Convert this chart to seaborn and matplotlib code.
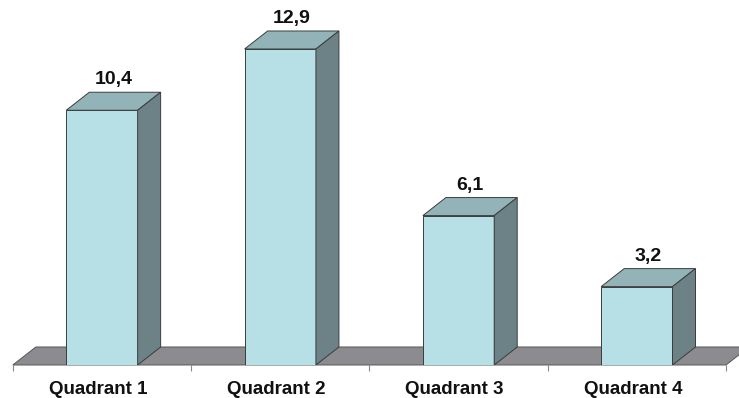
import matplotlib
matplotlib.use("Agg")
import matplotlib.pyplot as plt
from matplotlib.transforms import ScaledTranslation
import seaborn as sns
import pandas as pd

categories = ["Quadrant 1", "Quadrant 2", "Quadrant 3", "Quadrant 4"]
values = [10.4, 12.9, 6.1, 3.2]
value_labels = ["10,4", "12,9", "6,1", "3,2"]

sns.set_theme(style="white")
plt.rcParams["font.family"] = ["Liberation Sans", "DejaVu Sans"]

FRONT = "#B6E0E6"
TOP = "#92B4B8"
SIDE = "#6C8286"
FLOOR = "#8C8C90"
EDGE = "#3C3C3C"

fig = plt.figure(figsize=(7.39, 3.98), dpi=100)
ax = fig.add_axes([0, 33 / 398, 1, 365 / 398])

df = pd.DataFrame({"cat": categories, "val": values})
sns.barplot(data=df, x="cat", y="val", color=FRONT, width=0.4,
            edgecolor=EDGE, linewidth=0.7, saturation=1, ax=ax, zorder=3)

ax.set_xlim(-0.572, 3.573)
ax.set_ylim(0, 14.9)

dx = 0.129
dy = 0.735

# floor
n = len(categories)
fx = [-0.5, n - 0.5, n - 0.5 + dx, -0.5 + dx]
fy = [0, 0, dy, dy]
ax.fill(fx, fy, facecolor=FLOOR, edgecolor="#555555", linewidth=0.7,
        zorder=1, clip_on=False)

# 3D faces derived from the bar patches
for p, lab in zip(ax.patches, value_labels):
    x0 = p.get_x()
    w = p.get_width()
    h = p.get_height()
    x1 = x0 + w
    ax.fill([x0, x1, x1 + dx, x0 + dx], [h, h, h + dy, h + dy],
            facecolor=TOP, edgecolor=EDGE, linewidth=0.7, zorder=4)
    ax.fill([x1, x1 + dx, x1 + dx, x1], [0, dy, h + dy, h],
            facecolor=SIDE, edgecolor=EDGE, linewidth=0.7, zorder=4)
    ax.annotate(lab, (x0 + w / 2 + dx / 2, h + dy), xytext=(0, 9),
                textcoords="offset points", ha="center", va="center",
                fontsize=14, fontweight="bold", color="#111111")

for s in ax.spines.values():
    s.set_visible(False)
ax.set_xlabel("")
ax.set_ylabel("")
ax.set_yticks([])
ax.set_xticks(range(n))
ax.set_xticklabels(categories, fontsize=13.5, fontweight="bold", color="#111111")
ax.set_xticks([i - 0.5 for i in range(n + 1)], minor=True)
ax.tick_params(axis="x", which="major", length=0, pad=11.5)
ax.tick_params(axis="x", which="minor", length=4, width=0.8, color="#888888",
               bottom=True)
ax.axhline(0, color="#999999", linewidth=0.8, zorder=2,
           xmin=(-0.5 + 0.572) / 4.145, xmax=(n - 0.5 + 0.572) / 4.145)
off = ScaledTranslation(-4 / 100, 0, fig.dpi_scale_trans)
for lbl in ax.get_xticklabels():
    lbl.set_transform(lbl.get_transform() + off)

fig.savefig("out.png", dpi=100)
